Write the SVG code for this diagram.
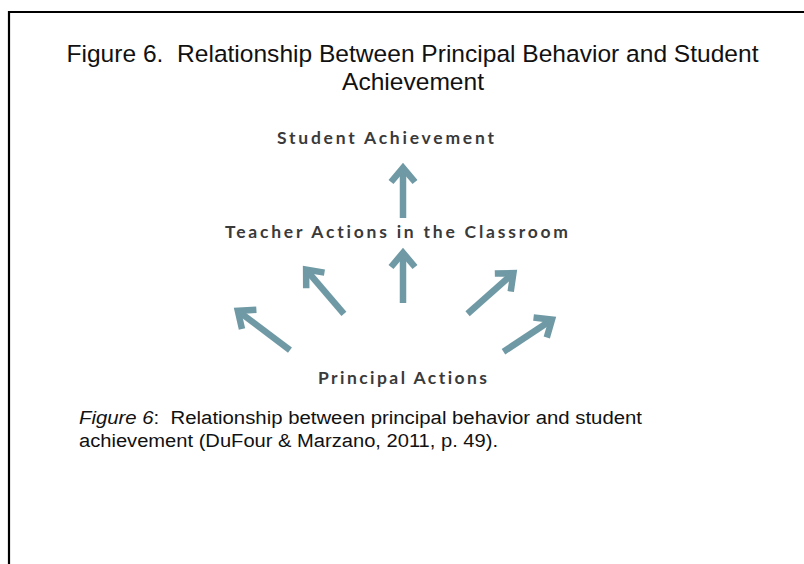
<svg xmlns="http://www.w3.org/2000/svg" xmlns:xlink="http://www.w3.org/1999/xlink" width="804" height="564" viewBox="0 0 804 564">
  <style>
    .title { font-family: "Liberation Sans", Arial, sans-serif; font-size: 24.5px; fill: #111; }
    .label { font-family: Lato, "Open Sans", "DejaVu Sans", sans-serif; font-weight: 700; font-size: 17.5px; fill: #3a3a3a; font-variant-ligatures: none; }
    .caption { font-family: "Liberation Sans", Arial, sans-serif; font-size: 18px; fill: #111; }
    .arrow { fill: none; stroke: #6f9aa5; stroke-width: 6.5; stroke-linejoin: miter; stroke-miterlimit: 4; }
  </style>
  <defs>
    <polyline id="head" points="-12,19 0,4.8 12,19"/>
  </defs>
  <rect x="0" y="0" width="804" height="564" fill="#fff"/>
  <path d="M9,570 V12 H810" fill="none" stroke="#000" stroke-width="2.2"/>

  <g id="title">
    <text class="title" x="412.5" y="62" text-anchor="middle" xml:space="preserve" textLength="692" lengthAdjust="spacingAndGlyphs">Figure 6.  Relationship Between Principal Behavior and Student</text>
    <text class="title" x="413" y="90" text-anchor="middle" textLength="142" lengthAdjust="spacingAndGlyphs">Achievement</text>
  </g>

  <g id="student-achievement">
    <text class="label" x="385.5" y="144" text-anchor="middle" textLength="217" lengthAdjust="spacing">Student Achievement</text>
  </g>
  <g id="teacher-actions">
    <text class="label" x="396.5" y="238" text-anchor="middle" textLength="343" lengthAdjust="spacing">Teacher Actions in the Classroom</text>
  </g>
  <g id="principal-actions">
    <text class="label" x="402.5" y="384" text-anchor="middle" textLength="169" lengthAdjust="spacing">Principal Actions</text>
  </g>

  <g id="connectors" class="arrow">
    <g transform="translate(403,163)"><path d="M0,5 V55"/><use xlink:href="#head" href="#head"/></g>
    <g transform="translate(403,248)"><path d="M0,5 V55"/><use xlink:href="#head" href="#head"/></g>
    <g transform="translate(234,308) rotate(-53.1)"><path d="M0,5 V70"/><use xlink:href="#head" href="#head"/></g>
    <g transform="translate(303,266) rotate(-40.5)"><path d="M0,5 V63"/><use xlink:href="#head" href="#head"/></g>
    <g transform="translate(517,270) rotate(48.5)"><path d="M0,5 V66"/><use xlink:href="#head" href="#head"/></g>
    <g transform="translate(556,317) rotate(56.5)"><path d="M0,5 V63"/><use xlink:href="#head" href="#head"/></g>
  </g>

  <g id="caption">
    <text class="caption" x="79" y="424" textLength="563" lengthAdjust="spacingAndGlyphs" xml:space="preserve"><tspan font-style="italic">Figure 6</tspan>:  Relationship between principal behavior and student</text>
    <text class="caption" x="79" y="447" textLength="419" lengthAdjust="spacingAndGlyphs">achievement (DuFour &amp; Marzano, 2011, p. 49).</text>
  </g>
</svg>
